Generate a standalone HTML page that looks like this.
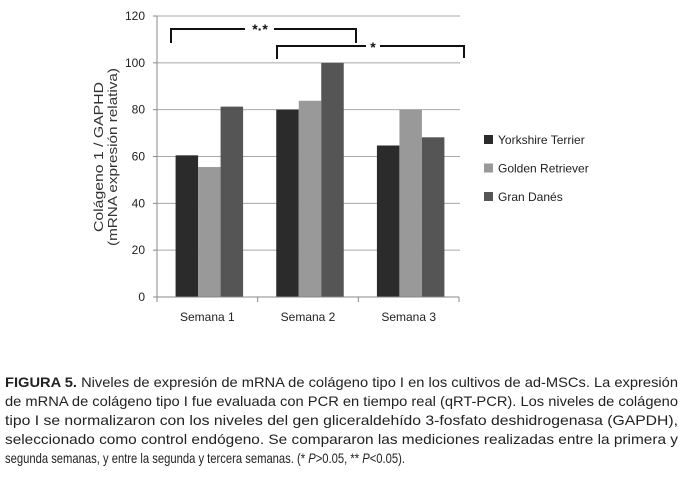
<!DOCTYPE html>
<html><head><meta charset="utf-8"><style>
html,body{margin:0;padding:0;background:#fff;}
svg{display:block;font-family:"Liberation Sans",sans-serif;}
</style></head><body>
<svg id="chart" width="685" height="479" viewBox="0 0 685 479">
<g id="grid"></g>
<g id="bars"></g>
<g id="axes"></g>
<g>
<text transform="translate(103,157) rotate(-90)" text-anchor="middle" font-size="13" fill="#333" textLength="150" lengthAdjust="spacingAndGlyphs">Colágeno 1 / GAPHD</text>
<text transform="translate(117,157) rotate(-90)" text-anchor="middle" font-size="13" fill="#333" textLength="178" lengthAdjust="spacingAndGlyphs">(mRNA expresión relativa)</text>
</g>
<g stroke="#111" stroke-width="2" fill="none">
<polyline points="171,43 171,29 245,29"/>
<polyline points="274,29 356,29 356,43"/>
<polyline points="277,59 277,46 366,46"/>
<polyline points="380,46 464,46 464,58"/>
</g>
<text x="260" y="34" text-anchor="middle" font-size="14" font-weight="bold" fill="#111">*·*</text>
<text x="373" y="52" text-anchor="middle" font-size="14" font-weight="bold" fill="#111">*</text>
<g id="legend"></g>
<g font-size="14" fill="#222">
<text x="5" y="387" textLength="673" lengthAdjust="spacingAndGlyphs"><tspan font-weight="bold">FIGURA 5.</tspan> Niveles de expresión de mRNA de colágeno tipo I en los cultivos de ad-MSCs. La expresión</text>
<text x="5" y="406" textLength="673" lengthAdjust="spacingAndGlyphs">de mRNA de colágeno tipo I fue evaluada con PCR en tiempo real (qRT-PCR). Los niveles de colágeno</text>
<text x="5" y="425" textLength="673" lengthAdjust="spacingAndGlyphs">tipo I se normalizaron con los niveles del gen gliceraldehído 3-fosfato deshidrogenasa (GAPDH),</text>
<text x="5" y="444" textLength="673" lengthAdjust="spacingAndGlyphs">seleccionado como control endógeno. Se compararon las mediciones realizadas entre la primera y</text>
<text x="5" y="463" textLength="400" lengthAdjust="spacingAndGlyphs">segunda semanas, y entre la segunda y tercera semanas. (* <tspan font-style="italic">P</tspan>&gt;0.05, ** <tspan font-style="italic">P</tspan>&lt;0.05).</text>
</g>
</svg>
<script>
const categories = ["Semana 1","Semana 2","Semana 3"];
const seriesNames = ["Yorkshire Terrier","Golden Retriever","Gran Danés"];
const yorkshire = [60.5, 80, 64.7];
const golden = [55.5, 83.8, 80];
const granDanes = [81.3, 100, 68.2];
const yTicks = [0,20,40,60,80,100,120];
const colors = ["#2b2b2b","#999999","#555555"];
const series = [yorkshire, golden, granDanes];

const NS = "http://www.w3.org/2000/svg";
const x0 = 157, x1 = 459, yBase = 297, yTop = 16, yMax = 120;
const catW = (x1 - x0) / categories.length;
const barW = 22.5;
function yScale(v){ return yBase - (v / yMax) * (yBase - yTop); }
function xCat(i){ return x0 + i * catW; }
function mk(tag, attrs, parent){ const e=document.createElementNS(NS,tag); for(const k in attrs) e.setAttribute(k, attrs[k]); parent.appendChild(e); return e; }

const grid = document.getElementById("grid");
const axes = document.getElementById("axes");
yTicks.forEach(t => {
  const y = yScale(t);
  if (t > 0) {
    const l = mk("line",{x1:x0,x2:x1+1,y1:y,y2:y,stroke:"#a8a8a8","stroke-width":1},grid);
    
    
  }
  const tk = mk("line",{x1:x0-4,x2:x0,y1:y,y2:y,stroke:"#888","stroke-width":1},axes);
  
  
  const tx = mk("text",{x:x0-12,y:y+4,"text-anchor":"end","font-size":"12",fill:"#222"},axes);
  tx.textContent = t;
  
  
});
const ya = mk("line",{x1:x0,x2:x0,y1:yTop,y2:yBase,stroke:"#888","stroke-width":1},axes);


const xa = mk("line",{x1:x0,x2:x1,y1:yBase,y2:yBase,stroke:"#888","stroke-width":1},axes);


for (let i=0;i<=categories.length;i++){
  const tk = mk("line",{x1:xCat(i),x2:xCat(i),y1:yBase,y2:yBase+5,stroke:"#888","stroke-width":1},axes);
  
  
}
const bars = document.getElementById("bars");
categories.forEach((c,i) => {
  const start = xCat(i) + (catW - barW*series.length)/2 + 2;
  series.forEach((s,j) => {
    const y = yScale(s[i]);
    const r = mk("rect",{x:start+j*barW,y:y,width:barW,height:yBase-y,fill:colors[j]},bars);
    
    
  });
  const lb = mk("text",{x:xCat(i)+catW/2,y:321,"text-anchor":"middle","font-size":"12",fill:"#222"},axes);
  lb.textContent = c;
  
  
});
const legend = document.getElementById("legend");
seriesNames.forEach((n,j) => {
  const y = 135 + j*28.5;
  const sq = mk("rect",{x:484,y:y,width:9,height:9,fill:colors[j]},legend);
  
  
  const t = mk("text",{x:498,y:y+9,"font-size":"12",fill:"#222"},legend);
  t.textContent = n;
  
  
});
</script>
</body></html>
